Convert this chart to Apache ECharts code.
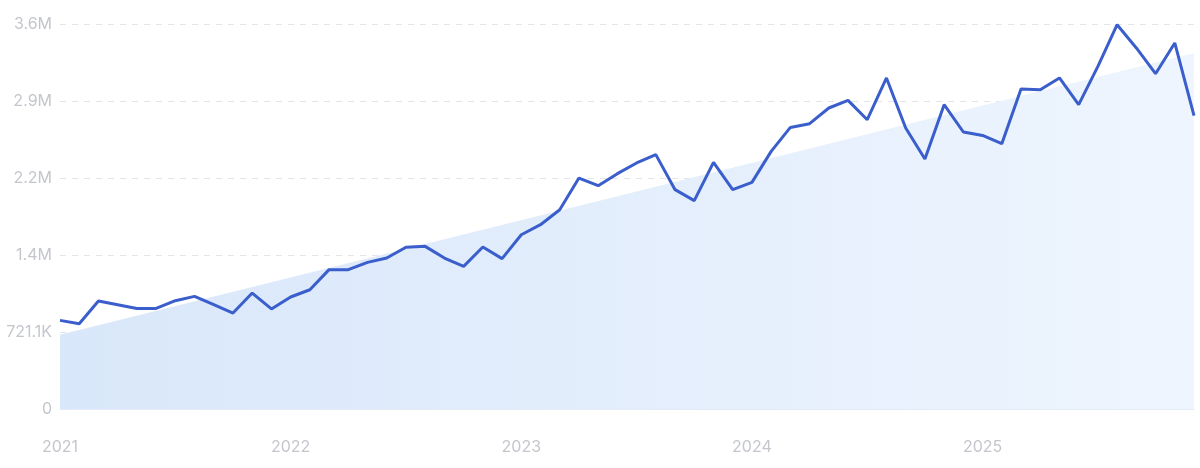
<!DOCTYPE html>
<html>
<head>
<meta charset="utf-8">
<script src="https://cdn.jsdelivr.net/npm/echarts@6/dist/echarts.min.js"></script>
<style>
html,body{margin:0;padding:0;background:#fff;}
#chart{width:1200px;height:468px;}
</style>
</head>
<body>
<div id="chart"></div>
<script>
// Months Jan 2021 .. Dec 2025
const months = [
  '2021-01','2021-02','2021-03','2021-04','2021-05','2021-06','2021-07','2021-08','2021-09','2021-10','2021-11','2021-12',
  '2022-01','2022-02','2022-03','2022-04','2022-05','2022-06','2022-07','2022-08','2022-09','2022-10','2022-11','2022-12',
  '2023-01','2023-02','2023-03','2023-04','2023-05','2023-06','2023-07','2023-08','2023-09','2023-10','2023-11','2023-12',
  '2024-01','2024-02','2024-03','2024-04','2024-05','2024-06','2024-07','2024-08','2024-09','2024-10','2024-11','2024-12',
  '2025-01','2025-02','2025-03','2025-04','2025-05','2025-06','2025-07','2025-08','2025-09','2025-10','2025-11','2025-12'
];
const values = [
  830000, 799000, 1011000, 977000, 942000, 942000, 1014000, 1055000, 977000, 899000, 1086000, 937000,
  1049000, 1117000, 1305000, 1305000, 1373000, 1414000, 1515000, 1523000, 1414000, 1336000, 1517000, 1408000,
  1632000, 1726000, 1866000, 2163000, 2091000, 2204000, 2304000, 2382000, 2054000, 1951000, 2310000, 2054000,
  2122000, 2413000, 2637000, 2672000, 2819000, 2890000, 2709000, 3100000, 2632000, 2341000, 2850000, 2594000,
  2562000, 2485000, 2997000, 2990000, 3100000, 2850000, 3209000, 3599000, 3381000, 3140000, 3428000, 2747000
];
// Trend area: start and end values
const trendStart = 696000;
const trendEnd = 3334000;
const yTicks = [0, 721100, 1442200, 2163300, 2884400, 3605500];
const yTickLabels = ['0', '721.1K', '1.4M', '2.2M', '2.9M', '3.6M'];

const trend = months.map((m, i) => i === 0 ? trendStart : (i === months.length - 1 ? trendEnd : null));

const chart = echarts.init(document.getElementById('chart'));
chart.setOption({
  animation: false,
  grid: { left: 60, right: 6, top: 24, bottom: 59 },
  xAxis: {
    type: 'category',
    data: months,
    boundaryGap: false,
    axisLine: { show: true, lineStyle: { color: '#e4ebf6', width: 1 } },
    axisTick: { show: false },
    splitLine: { show: false },
    axisLabel: {
      interval: (idx) => idx % 12 === 0,
      formatter: (v) => v.slice(0, 4),
      color: '#c4c6cc',
      fontSize: 16,
      fontFamily: 'Inter, "Noto Sans", sans-serif',
      margin: 30
    }
  },
  yAxis: {
    type: 'value',
    min: yTicks[0],
    max: yTicks[yTicks.length - 1],
    interval: yTicks[1] - yTicks[0],
    axisLine: { show: false },
    axisTick: { show: false },
    splitLine: { show: true, lineStyle: { color: '#e2e4e8', type: [6, 6], width: 1 } },
    axisLabel: {
      formatter: (v) => {
        const i = yTicks.findIndex(t => Math.abs(t - v) < 1);
        return i >= 0 ? yTickLabels[i] : '';
      },
      color: '#c4c6cc',
      fontSize: 16,
      fontFamily: 'Inter, "Noto Sans", sans-serif',
      margin: 8
    }
  },
  series: [
    {
      type: 'line',
      data: trend,
      connectNulls: true,
      symbol: 'none',
      lineStyle: { width: 0 },
      areaStyle: {
        opacity: 1,
        color: new echarts.graphic.LinearGradient(0, 0, 1, 0, [
          { offset: 0, color: '#d9e7fa' },
          { offset: 1, color: '#eef5fe' }
        ])
      },
      z: 1
    },
    {
      type: 'line',
      data: values,
      symbol: 'none',
      lineStyle: { color: '#3a5ecb', width: 3 },
      z: 3
    }
  ]
});
</script>
</body>
</html>
